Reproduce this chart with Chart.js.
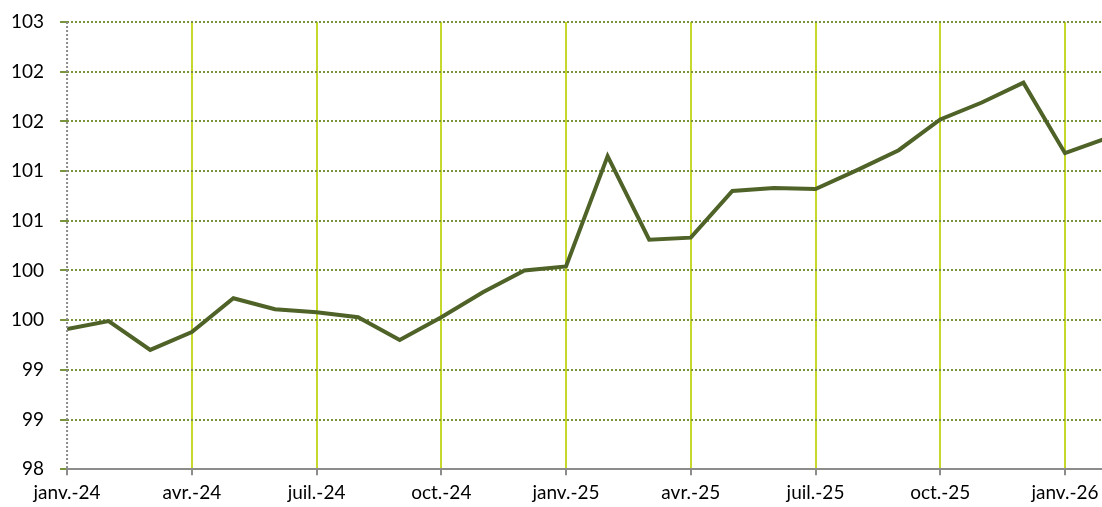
<!DOCTYPE html>
<html>
<head>
<meta charset="utf-8">
<script src="https://cdn.jsdelivr.net/npm/chart.js@4/dist/chart.umd.min.js"></script>
<style>
  body { margin: 0; background: #fff; }
  #wrap { width: 1102px; height: 507px; }
</style>
</head>
<body>
<div id="wrap"><canvas id="chart" width="1102" height="507"></canvas></div>
<script>
// ---- data ----
// monthly points, janv.-24 ... févr.-26 (last one runs off the right edge)
let months = ["janv.-24", "févr.-24", "mars-24", "avr.-24", "mai-24", "juin-24", "juil.-24", "août-24",
    "sept.-24", "oct.-24", "nov.-24", "déc.-24", "janv.-25", "févr.-25", "mars-25", "avr.-25",
    "mai-25", "juin-25", "juil.-25", "août-25", "sept.-25", "oct.-25", "nov.-25", "déc.-25",
    "janv.-26", "févr.-26"];
let values = [99.66, 99.74, 99.45, 99.63, 99.97, 99.86, 99.83, 99.78, 99.55, 99.78, 100.03, 100.25,
    100.29, 101.40, 100.56, 100.58, 101.05, 101.08, 101.07, 101.26, 101.46, 101.77, 101.94, 102.14,
    101.43, 101.58];
let xTickIndex = [0, 3, 6, 9, 12, 15, 18, 21, 24];
let yTickValues = [98.25, 98.75, 99.25, 99.75, 100.25, 100.75, 101.25, 101.75, 102.25, 102.75];
let yTickLabels = ["98", "99", "99", "100", "100", "101", "101", "102", "102", "103"];

// ---- chart ----
let points = [];
for (let i = 0; i < values.length; i++) {
    points.push({ x: i, y: values[i] });
}

Chart.defaults.font.family = "Lato, 'Open Sans', sans-serif";
Chart.defaults.font.size = 19;
Chart.defaults.color = "#000";

// dotted gray y axis line (v4 draws the axis border solid)
const dottedYAxis = {
    id: "dottedYAxis",
    afterDatasetsDraw: function (chart) {
        let a = chart.chartArea;
        let c = chart.ctx;
        c.save();
        c.strokeStyle = "#8c8c8c";
        c.lineWidth = 2;
        c.setLineDash([2, 2]);
        c.beginPath();
        c.moveTo(a.left, a.top);
        c.lineTo(a.left, a.bottom);
        c.stroke();
        c.restore();
    }
};

let ctx = document.getElementById("chart").getContext("2d");

new Chart(ctx, {
    type: "line",
    data: {
        datasets: [{
            data: points,
            borderColor: "#4F6228",
            borderWidth: 4,
            pointRadius: 0,
            tension: 0,
            fill: false
        }]
    },
    options: {
        responsive: false,
        animation: false,
        layout: { padding: { left: -5, right: 0, top: 22, bottom: -3 } },
        plugins: { legend: { display: false }, tooltip: { enabled: false } },
        scales: {
            x: {
                type: "linear",
                min: 0,
                max: 24.89,
                afterBuildTicks: function (scale) {
                    scale.ticks = xTickIndex.map(v => ({ value: v }));
                },
                afterFit: function (scale) {
                    scale.paddingRight = 0;
                },
                ticks: {
                    autoSkip: false,
                    maxRotation: 0,
                    padding: 6,
                    callback: function (v) { return months[v]; }
                },
                grid: {
                    color: function (c) { return c.tick && c.tick.value === 0 ? "rgba(0,0,0,0)" : "#C5D82B"; },
                    lineWidth: 2,
                    tickColor: "#8c8c8c",
                    tickLength: 6
                },
                border: { color: "#8c8c8c", width: 2 }
            },
            y: {
                min: 98.25,
                max: 102.75,
                afterBuildTicks: function (scale) {
                    scale.ticks = yTickValues.map(v => ({ value: v }));
                },
                afterFit: function (scale) {
                    scale.paddingTop = 0;
                    scale.paddingBottom = 0;
                },
                ticks: {
                    padding: 16,
                    callback: function (v) { return yTickLabels[yTickValues.indexOf(v)]; }
                },
                grid: {
                    color: "#77933C",
                    lineWidth: 2,
                    tickLength: 7
                },
                border: { display: false, dash: [2, 2] }
            }
        }
    },
    plugins: [dottedYAxis]
});
</script>
</body>
</html>
